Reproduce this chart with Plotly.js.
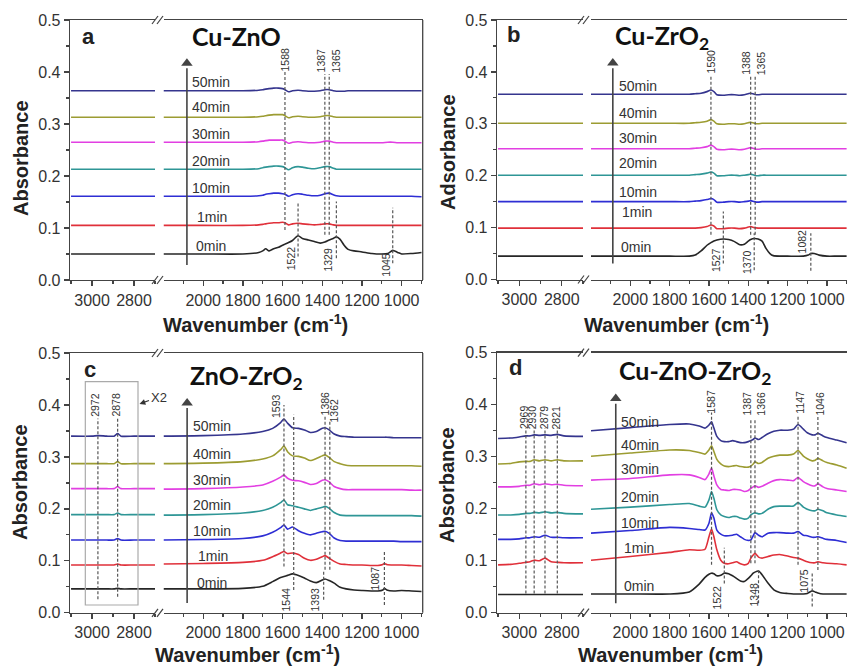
<!DOCTYPE html>
<html><head><meta charset="utf-8">
<script src="https://cdn.plot.ly/plotly-3.0.1.min.js"></script>
<style>html,body{margin:0;padding:0;background:#fff;} #chart{width:847px;height:666px;}</style>
</head><body><div id="chart"></div>
<script>
// ---------------- DATA ----------------
const times = ['0min','1min','10min','20min','30min','40min','50min'];
const panelNames = ['a','b','c','d'];
const panelTitles = ['Cu-ZnO','Cu-ZrO<sub>2</sub>','ZnO-ZrO<sub>2</sub>','Cu-ZnO-ZrO<sub>2</sub>'];
const yTitles = ['Absorbance','Adsorbance','Absorbance','Absorbance'];
const xTitle = 'Wavenumber (cm<sup>-1</sup>)';
const yTickVals = [0, 0.1, 0.2, 0.3, 0.4, 0.5];
const yTickText = ['0.0','0.1','0.2','0.3','0.4','0.5'];
const xTickLeft = [3000, 2800];
const xMinorLeft = [3100, 2900, 2700];
const xTickRight = [2000, 1800, 1600, 1400, 1200, 1000];
const xMinorRight = [2100, 1900, 1700, 1500, 1300, 1100, 900];

// Panel a (Cu-ZnO)
const aWnL = [3100, 2900, 2700];
const aL = [
 [0.050,0.050,0.050],[0.105,0.105,0.105],[0.161,0.161,0.161],[0.213,0.213,0.213],
 [0.265,0.265,0.265],[0.313,0.313,0.313],[0.364,0.364,0.364]];
const aWnR = [2200,2000,1800,1720,1700, 1685,1668,1645,1620,1600, 1588,1570,1550,1522,1500,
 1470,1440,1410,1387,1365, 1345,1329,1310,1290,1270, 1240,1200,1150,1100,1070, 1045,1020,1000,950,900];
const aR = [
 [0.050,0.050,0.050,0.053,0.056, 0.060,0.056,0.060,0.063,0.067, 0.069,0.072,0.076,0.085,0.080, 0.077,0.074,0.071,0.073,0.077, 0.080,0.083,0.078,0.067,0.059, 0.056,0.054,0.051,0.050,0.051, 0.057,0.053,0.050,0.051,0.053],
 [0.105,0.105,0.105,0.106,0.107, 0.108,0.109,0.110,0.110,0.111, 0.110,0.106,0.108,0.109,0.108, 0.107,0.106,0.107,0.108,0.108, 0.106,0.105,0.105,0.105,0.105, 0.105,0.105,0.105,0.105,0.105, 0.105,0.105,0.105,0.105,0.105],
 [0.161,0.161,0.161,0.162,0.163, 0.165,0.166,0.167,0.167,0.166, 0.165,0.161,0.164,0.166,0.165, 0.163,0.162,0.163,0.166,0.167, 0.164,0.162,0.161,0.161,0.161, 0.161,0.161,0.161,0.161,0.161, 0.161,0.161,0.161,0.161,0.160],
 [0.213,0.213,0.213,0.214,0.216, 0.217,0.218,0.219,0.219,0.218, 0.216,0.212,0.216,0.218,0.217, 0.215,0.214,0.216,0.218,0.218, 0.215,0.213,0.213,0.213,0.213, 0.213,0.213,0.213,0.213,0.213, 0.213,0.213,0.213,0.213,0.213],
 [0.265,0.265,0.265,0.266,0.267, 0.268,0.269,0.269,0.269,0.269, 0.267,0.263,0.265,0.266,0.265, 0.264,0.264,0.265,0.267,0.267, 0.265,0.264,0.264,0.264,0.264, 0.264,0.264,0.264,0.264,0.265, 0.265,0.264,0.264,0.264,0.264],
 [0.313,0.313,0.313,0.314,0.315, 0.316,0.317,0.318,0.318,0.318, 0.316,0.312,0.314,0.315,0.314, 0.313,0.313,0.314,0.316,0.316, 0.314,0.313,0.313,0.313,0.313, 0.313,0.313,0.313,0.313,0.313, 0.313,0.313,0.313,0.313,0.313],
 [0.364,0.364,0.364,0.365,0.366, 0.367,0.368,0.369,0.369,0.368, 0.366,0.362,0.364,0.365,0.364, 0.363,0.363,0.364,0.366,0.366, 0.364,0.363,0.363,0.363,0.364, 0.364,0.364,0.364,0.364,0.364, 0.364,0.364,0.364,0.364,0.364]];
const aPk = [1588, 1387, 1365, 1522, 1329, 1045];
const aPkLo = [0.096, 0.087, 0.087, 0.045, 0.042, 0.032];
const aPkHi = [0.401, 0.396, 0.396, 0.151, 0.151, 0.139];
const aPkLab = [0.424, 0.422, 0.422, 0.042, 0.040, 0.029];
const aTimeY = [0.065, 0.122, 0.177, 0.229, 0.281, 0.333, 0.381];
const aTimeX = [2047, 2043, 2065, 2065, 2065, 2065, 2065];
const aArrow = [2082, 0.029, 0.417];

// Panel b (Cu-ZrO2)
const bWnL = [3100, 2900, 2700];
const bL = [
 [0.045,0.045,0.045],[0.099,0.099,0.099],[0.150,0.150,0.150],[0.201,0.201,0.201],
 [0.252,0.252,0.252],[0.301,0.301,0.301],[0.357,0.357,0.357]];
const bWnR = [2200,2000,1800,1700,1670, 1640,1610,1590,1575,1560, 1527,1500,1470,1443,1420,
 1400,1388,1370,1350,1330, 1310,1290,1273,1240,1200, 1120,1095,1082,1065,1040, 1000,950,900];
const bR = [
 [0.045,0.045,0.045,0.045,0.047, 0.055,0.066,0.071,0.074,0.076, 0.078,0.077,0.073,0.067,0.068, 0.074,0.077,0.079,0.078,0.074, 0.060,0.050,0.046,0.045,0.045, 0.045,0.047,0.050,0.050,0.047, 0.045,0.045,0.045],
 [0.099,0.099,0.099,0.099,0.099, 0.100,0.102,0.105,0.103,0.098, 0.098,0.099,0.099,0.098,0.099, 0.101,0.102,0.100,0.099,0.099, 0.099,0.099,0.099,0.099,0.099, 0.099,0.099,0.099,0.099,0.099, 0.099,0.099,0.099],
 [0.150,0.150,0.150,0.150,0.151, 0.152,0.154,0.156,0.154,0.149, 0.149,0.150,0.150,0.149,0.150, 0.151,0.152,0.150,0.149,0.150, 0.150,0.150,0.150,0.150,0.150, 0.150,0.150,0.150,0.150,0.150, 0.150,0.150,0.150],
 [0.201,0.201,0.201,0.201,0.202, 0.203,0.205,0.207,0.205,0.200, 0.200,0.201,0.201,0.200,0.201, 0.202,0.203,0.201,0.200,0.201, 0.201,0.201,0.201,0.201,0.201, 0.201,0.201,0.201,0.201,0.201, 0.201,0.201,0.201],
 [0.252,0.252,0.252,0.252,0.253, 0.254,0.256,0.259,0.256,0.251, 0.250,0.251,0.251,0.250,0.251, 0.253,0.254,0.252,0.251,0.252, 0.252,0.252,0.252,0.252,0.252, 0.252,0.252,0.252,0.252,0.252, 0.252,0.252,0.252],
 [0.301,0.301,0.301,0.301,0.302, 0.303,0.305,0.308,0.305,0.300, 0.299,0.300,0.300,0.299,0.300, 0.302,0.303,0.301,0.300,0.301, 0.301,0.301,0.301,0.301,0.301, 0.301,0.301,0.301,0.301,0.301, 0.301,0.301,0.301],
 [0.357,0.357,0.357,0.357,0.358, 0.359,0.362,0.365,0.362,0.356, 0.355,0.356,0.356,0.355,0.356, 0.358,0.359,0.357,0.356,0.357, 0.357,0.357,0.357,0.357,0.357, 0.357,0.357,0.357,0.357,0.357, 0.357,0.357,0.357]];
const bPk = [1590, 1388, 1365, 1527, 1370, 1082];
const bPkLo = [0.086, 0.086, 0.086, 0.031, 0.018, 0.017];
const bPkHi = [0.394, 0.394, 0.394, 0.131, 0.089, 0.089];
const bPkLab = [0.420, 0.417, 0.417, 0.038, 0.034, 0.073];
const bTimeY = [0.063, 0.131, 0.169, 0.224, 0.273, 0.320, 0.373];
const bTimeX = [2057, 2052, 2069, 2069, 2069, 2069, 2069];
const bArrow = [2089, 0.031, 0.417];

// Panel c (ZnO-ZrO2)
const cWnL = [3100, 3000, 2972, 2930, 2895, 2878, 2862, 2800, 2700];
const cL = [
 [0.046,0.046,0.046,0.046,0.046,0.047,0.046,0.046,0.046],
 [0.092,0.092,0.092,0.092,0.092,0.094,0.092,0.092,0.092],
 [0.140,0.140,0.140,0.140,0.140,0.143,0.140,0.140,0.140],
 [0.189,0.189,0.189,0.189,0.189,0.192,0.189,0.189,0.189],
 [0.239,0.239,0.239,0.239,0.239,0.243,0.239,0.239,0.239],
 [0.287,0.287,0.287,0.287,0.287,0.291,0.287,0.287,0.287],
 [0.340,0.340,0.341,0.340,0.340,0.345,0.340,0.340,0.340]];
const cWnR = [2200,2000,1800,1700,1650, 1610,1593,1575,1550,1520, 1490,1460,1430,1400,1386,
 1365,1340,1310,1280,1240, 1200,1120,1095,1087,1075, 1040,1000,950,900];
const cR = [
 [0.046,0.046,0.047,0.051,0.060, 0.068,0.070,0.072,0.075,0.072, 0.067,0.061,0.058,0.063,0.065, 0.062,0.057,0.049,0.046,0.044, 0.043,0.042,0.044,0.047,0.044, 0.042,0.043,0.042,0.041],
 [0.094,0.095,0.097,0.101,0.108, 0.115,0.118,0.114,0.115,0.112, 0.105,0.101,0.103,0.108,0.110, 0.105,0.099,0.094,0.093,0.092, 0.092,0.091,0.093,0.095,0.093, 0.092,0.092,0.091,0.090],
 [0.140,0.141,0.143,0.148,0.155, 0.164,0.169,0.161,0.165,0.158, 0.153,0.150,0.153,0.156,0.157, 0.153,0.144,0.139,0.138,0.138, 0.138,0.138,0.138,0.138,0.138, 0.138,0.137,0.137,0.137],
 [0.188,0.189,0.192,0.197,0.203, 0.212,0.217,0.208,0.206,0.203, 0.200,0.197,0.200,0.203,0.205, 0.201,0.193,0.188,0.187,0.187, 0.187,0.187,0.187,0.187,0.187, 0.187,0.187,0.187,0.186],
 [0.238,0.239,0.242,0.246,0.253, 0.261,0.265,0.259,0.255,0.254, 0.251,0.247,0.249,0.255,0.256, 0.252,0.243,0.239,0.237,0.237, 0.237,0.237,0.237,0.237,0.237, 0.237,0.237,0.236,0.236],
 [0.287,0.288,0.291,0.296,0.302, 0.314,0.321,0.310,0.302,0.301, 0.298,0.293,0.297,0.302,0.304, 0.299,0.291,0.287,0.284,0.283, 0.283,0.283,0.283,0.283,0.283, 0.283,0.283,0.283,0.282],
 [0.340,0.341,0.344,0.349,0.355, 0.366,0.373,0.365,0.356,0.355, 0.352,0.347,0.349,0.355,0.356, 0.352,0.344,0.340,0.339,0.338, 0.338,0.338,0.338,0.338,0.338, 0.337,0.337,0.337,0.337]];
const cPk = [1593, 1544, 1386, 1362, 1393, 1087];
const cPkLo = [0.089, 0.044, 0.083, 0.083, 0.025, 0.015];
const cPkHi = [0.400, 0.381, 0.378, 0.371, 0.083, 0.120];
const cPkLab = [0.398, 0.025, 0.403, 0.389, 0.025, 0.067];
const cPkL = [2972, 2878];
const cPkLLo = [0.026, 0.031];
const cPkLHi = [0.374, 0.374];
const cPkLLab = [0.400, 0.400];
const cBox = [3032, 2781, 0.015, 0.445];
const cTimeY = [0.058, 0.110, 0.158, 0.208, 0.256, 0.305, 0.360];
const cTimeX = [2039, 2036, 2059, 2059, 2059, 2059, 2059];
const cArrow = [2081, 0.019, 0.404];

// Panel d (Cu-ZnO-ZrO2)
const dWnL = [3100,3040,3000,2969,2950,2930,2905,2879,2850,2821,2790,2700];
const dL = [
 [0.035,0.035,0.035,0.035,0.035,0.035,0.035,0.035,0.035,0.035,0.035,0.035],
 [0.092,0.093,0.095,0.097,0.098,0.101,0.100,0.105,0.098,0.097,0.096,0.096],
 [0.141,0.141,0.142,0.144,0.144,0.146,0.145,0.149,0.145,0.145,0.144,0.144],
 [0.188,0.188,0.189,0.191,0.191,0.193,0.192,0.194,0.192,0.193,0.191,0.190],
 [0.242,0.242,0.243,0.245,0.245,0.248,0.246,0.248,0.246,0.247,0.245,0.244],
 [0.286,0.287,0.290,0.291,0.291,0.294,0.292,0.294,0.292,0.294,0.292,0.292],
 [0.335,0.336,0.338,0.340,0.340,0.342,0.341,0.342,0.341,0.343,0.340,0.339]];
const dWnR = [2200,2000,1800,1700,1650, 1620,1600,1587,1575,1560, 1540,1522,1500,1480,1460,
 1440,1420,1400,1387,1375, 1366,1348,1330,1300,1270, 1240,1200,1170,1147,1120, 1100,1075,1060,1046,1020, 1000,950,900];
const dR = [
 [0.036,0.036,0.036,0.040,0.055, 0.068,0.074,0.076,0.075,0.071, 0.072,0.076,0.075,0.071,0.066, 0.061,0.060,0.066,0.071,0.076, 0.078,0.080,0.073,0.057,0.044, 0.039,0.037,0.036,0.036,0.036, 0.037,0.042,0.040,0.038,0.036, 0.036,0.036,0.036],
 [0.101,0.108,0.116,0.121,0.120, 0.122,0.146,0.161,0.146,0.121, 0.101,0.095,0.094,0.096,0.098, 0.094,0.092,0.095,0.105,0.111, 0.114,0.107,0.105,0.108,0.111, 0.112,0.109,0.106,0.105,0.101, 0.098,0.096,0.096,0.098,0.096, 0.095,0.094,0.092],
 [0.153,0.158,0.164,0.162,0.160, 0.159,0.172,0.192,0.182,0.159, 0.151,0.148,0.148,0.149,0.151, 0.146,0.141,0.139,0.140,0.148, 0.154,0.149,0.146,0.153,0.154, 0.154,0.153,0.153,0.156,0.149, 0.148,0.145,0.145,0.146,0.143, 0.141,0.139,0.135],
 [0.199,0.203,0.208,0.210,0.205, 0.203,0.217,0.233,0.220,0.198, 0.188,0.185,0.183,0.185,0.185, 0.182,0.180,0.182,0.188,0.191, 0.192,0.190,0.191,0.199,0.204, 0.205,0.205,0.205,0.212,0.203, 0.199,0.196,0.196,0.199,0.196, 0.192,0.188,0.185],
 [0.255,0.258,0.265,0.265,0.260, 0.256,0.267,0.278,0.263,0.246, 0.237,0.236,0.235,0.237,0.237, 0.236,0.233,0.235,0.239,0.242, 0.244,0.241,0.243,0.249,0.254, 0.256,0.255,0.254,0.260,0.252, 0.248,0.244,0.244,0.248,0.242, 0.239,0.236,0.233],
 [0.301,0.307,0.313,0.312,0.308, 0.305,0.313,0.321,0.310,0.295, 0.286,0.282,0.281,0.282,0.283, 0.281,0.280,0.280,0.282,0.286, 0.290,0.287,0.289,0.297,0.301, 0.303,0.303,0.305,0.312,0.301, 0.296,0.292,0.293,0.297,0.292, 0.289,0.284,0.278],
 [0.350,0.356,0.362,0.363,0.359, 0.355,0.361,0.367,0.355,0.339, 0.331,0.329,0.329,0.331,0.329, 0.327,0.327,0.329,0.331,0.333, 0.336,0.333,0.337,0.344,0.349, 0.351,0.351,0.353,0.362,0.353, 0.346,0.342,0.342,0.345,0.340, 0.337,0.332,0.327]];
const dPk = [1587, 1387, 1366, 1147, 1046, 1522, 1348, 1075];
const dPkLo = [0.092, 0.095, 0.095, 0.092, 0.082, 0.056, 0.018, 0.012];
const dPkHi = [0.385, 0.374, 0.374, 0.380, 0.380, 0.125, 0.082, 0.079];
const dPkLab = [0.405, 0.402, 0.402, 0.404, 0.402, 0.030, 0.034, 0.062];
const dPkL = [2969, 2930, 2879, 2821];
const dPkLLo = [0.037, 0.037, 0.037, 0.037];
const dPkLHi = [0.355, 0.355, 0.355, 0.355];
const dPkLLab = [0.376, 0.376, 0.376, 0.376];
const dTimeY = [0.051, 0.124, 0.173, 0.223, 0.276, 0.3225, 0.367];
const dTimeX = [2044, 2040, 2060, 2060, 2060, 2060, 2060];
const dArrow = [2074, 0.018, 0.412];

// ---------------- STYLE / LAYOUT ----------------
const W = 847, H = 666;
const px = v => v / W, py = v => 1 - v / H;
const colors = ['#262626','#e0303a','#2e2ed4','#2e9696','#e23fe2','#9c9c32','#35358e'];
const axisColor = '#444';
const tickFont = {family:'Liberation Sans, Arial, sans-serif', size:16, color:'#333'};
const pkFont = {family:'Liberation Sans Narrow, Liberation Sans, Arial, sans-serif', size:10.5, color:'#333'};
const timeFont = {family:'Liberation Sans, Arial, sans-serif', size:14, color:'#333'};

const geo = [
 {L:[70,155], R:[163.5,422.7], Y:[280,20], rL:[3105,2700], rR:[2200,894], frameR:true, brk:[152,163]},
 {L:[497,583], R:[591,847], Y:[279.5,20], rL:[3105,2700], rR:[2200,898], frameR:false, brk:[578,589]},
 {L:[70,155], R:[163.5,422.7], Y:[612.8,353], rL:[3105,2700], rR:[2200,894], frameR:true, brk:[152,163]},
 {L:[497,583], R:[591,847], Y:[612.7,352.7], rL:[3105,2700], rR:[2200,898], frameR:false, brk:[578,589]}
];
const pk = [
 {wn:aPk, lo:aPkLo, hi:aPkHi, lab:aPkLab, sh:[0,-4,6,-7,-8,-7]},
 {wn:bPk, lo:bPkLo, hi:bPkHi, lab:bPkLab, sh:[0,-5,6,-8,-7,-9]},
 {wn:cPk, lo:cPkLo, hi:cPkHi, lab:cPkLab, sh:[-8,-8,0,4,-9,-9]},
 {wn:dPk, lo:dPkLo, hi:dPkHi, lab:dPkLab, sh:[0,-4,6,2,2,-7,-5,-8]}
];
const pkL = [null, null,
 {wn:cPkL, lo:cPkLLo, hi:cPkLHi, lab:cPkLLab, sh:[-3,-2]},
 {wn:dPkL, lo:dPkLLo, hi:dPkLHi, lab:dPkLLab, sh:[-2,-2,-1,-1]}];
const series = [
 {wL:aWnL, L:aL, wR:aWnR, R:aR, tx:aTimeX, ty:aTimeY, ar:aArrow},
 {wL:bWnL, L:bL, wR:bWnR, R:bR, tx:bTimeX, ty:bTimeY, ar:bArrow},
 {wL:cWnL, L:cL, wR:cWnR, R:cR, tx:cTimeX, ty:cTimeY, ar:cArrow},
 {wL:dWnL, L:dL, wR:dWnR, R:dR, tx:dTimeX, ty:dTimeY, ar:dArrow}
];
const letterPos = [[80,36],[505,35],[82,369],[507,367]];
const titlePos = [[190,36],[613,37],[188,377],[617,372]];
const yTitlePos = [[21,158],[448,152],[20,482],[447,485]];
const xTitlePos = [[255,323],[676,323],[247,653],[670,653]];

const traces = [], shapes = [], annotations = [];
const layout = {
  width: W, height: H, margin:{l:0,r:0,t:0,b:0},
  paper_bgcolor:'#fff', plot_bgcolor:'rgba(0,0,0,0)', showlegend:false
};

for (let p = 0; p < 4; p++) {
  const g = geo[p], s = series[p];
  const xl = 2*p + 1, xr = 2*p + 2, yi = p + 1;
  const xlName = xl === 1 ? 'x' : 'x' + xl, xrName = 'x' + xr;
  const yName = yi === 1 ? 'y' : 'y' + yi;
  const xlKey = xl === 1 ? 'xaxis' : 'xaxis' + xl, xrKey = 'xaxis' + xr;
  const yKey = yi === 1 ? 'yaxis' : 'yaxis' + yi;
  const baseX = {
    showline:true, mirror:true, linecolor:axisColor, linewidth:1.3,
    ticks:'outside', ticklen:5, tickwidth:1.3, tickcolor:axisColor,
    tickfont:tickFont, showgrid:false, zeroline:false, fixedrange:true, anchor:yName,
    tickmode:'array'
  };
  layout[xlKey] = Object.assign({}, baseX, {
    domain:[px(g.L[0]), px(g.L[1])], range:g.rL,
    tickvals:xTickLeft, ticktext:xTickLeft.map(String),
    minor:{tickmode:'array', tickvals:xMinorLeft, ticks:'outside', ticklen:3, tickcolor:axisColor, tickwidth:1.2}
  });
  layout[xrKey] = Object.assign({}, baseX, {
    domain:[px(g.R[0]), Math.min(1, px(g.R[1]))], range:g.rR,
    tickvals:xTickRight, ticktext:xTickRight.map(String),
    minor:{tickmode:'array', tickvals:xMinorRight, ticks:'outside', ticklen:3, tickcolor:axisColor, tickwidth:1.2}
  });
  layout[yKey] = {
    domain:[py(g.Y[0]), py(g.Y[1])], range:[0, 0.5], anchor:xlName,
    showline:true, linecolor:axisColor, linewidth:1.3,
    ticks:'outside', ticklen:5, tickwidth:1.3, tickcolor:axisColor,
    tickmode:'array', tickvals:yTickVals, ticktext:yTickText, tickfont:tickFont,
    minor:{dtick:0.05, tick0:0, ticks:'outside', ticklen:3, tickcolor:axisColor, tickwidth:1.2},
    showgrid:false, zeroline:false, fixedrange:true
  };
  for (let k = 0; k < times.length; k++) {
    const ln = {color:colors[k], width:1.6, shape:'spline', smoothing:0.6};
    traces.push({x:s.wL, y:s.L[k], xaxis:xlName, yaxis:yName, type:'scatter', mode:'lines', line:ln, hoverinfo:'skip', name:times[k]});
    traces.push({x:s.wR, y:s.R[k], xaxis:xrName, yaxis:yName, type:'scatter', mode:'lines', line:ln, hoverinfo:'skip', name:times[k]});
    annotations.push({xref:xrName, yref:yName, x:s.tx[k], y:s.ty[k], text:times[k], showarrow:false,
      xanchor:'left', yanchor:'middle', font:timeFont});
  }
  // time arrow: shaft + triangular head
  shapes.push({type:'line', xref:xrName, yref:yName, x0:s.ar[0], x1:s.ar[0], y0:s.ar[1], y1:s.ar[2] - 0.01,
    line:{color:'#444', width:1.6}});
  traces.push({x:[s.ar[0]], y:[s.ar[2]], xaxis:xrName, yaxis:yName, type:'scatter', mode:'markers',
    marker:{symbol:'triangle-up', size:10, color:'#444'}, hoverinfo:'skip'});
  const P = pk[p];
  for (let i = 0; i < P.wn.length; i++) {
    shapes.push({type:'line', xref:xrName, yref:yName, x0:P.wn[i], x1:P.wn[i], y0:P.lo[i], y1:P.hi[i],
      line:{color:'#555', width:1.2, dash:'3px,2px'}});
    annotations.push({xref:xrName, yref:yName, x:P.wn[i], y:P.lab[i], text:String(P.wn[i]), textangle:-90,
      showarrow:false, xshift:P.sh[i], font:pkFont, xanchor:'center', yanchor:'middle'});
  }
  const Q = pkL[p];
  if (Q) {
    for (let i = 0; i < Q.wn.length; i++) {
      shapes.push({type:'line', xref:xlName, yref:yName, x0:Q.wn[i], x1:Q.wn[i], y0:Q.lo[i], y1:Q.hi[i],
        line:{color:'#555', width:1.2, dash:'3px,2px'}});
      annotations.push({xref:xlName, yref:yName, x:Q.wn[i], y:Q.lab[i], text:String(Q.wn[i]), textangle:-90,
        showarrow:false, xshift:Q.sh[i], font:pkFont, xanchor:'center', yanchor:'middle'});
    }
  }
  if (g.frameR) {
    shapes.push({type:'line', xref:'paper', yref:'paper', x0:px(g.R[1]), x1:px(g.R[1]), y0:py(g.Y[0]), y1:py(g.Y[1]),
      line:{color:axisColor, width:1.3}});
  }
  for (const yy of [g.Y[0], g.Y[1]]) {
    for (const off of [0, 5]) {
      const x0 = g.brk[0] + off;
      shapes.push({type:'line', xref:'paper', yref:'paper', x0:px(x0), x1:px(x0 + 6), y0:py(yy + 4), y1:py(yy - 4),
        line:{color:axisColor, width:1.2}});
    }
  }
  annotations.push({xref:'paper', yref:'paper', x:px(letterPos[p][0]), y:py(letterPos[p][1]), text:'<b>'+panelNames[p]+'</b>',
    showarrow:false, xanchor:'left', yanchor:'middle', font:{family:'Liberation Sans, Arial, sans-serif', size:22, color:'#222'}});
  annotations.push({xref:'paper', yref:'paper', x:px(titlePos[p][0]), y:py(titlePos[p][1]), text:'<b>'+panelTitles[p]+'</b>',
    showarrow:false, xanchor:'left', yanchor:'middle', font:{family:'Lato, Open Sans, sans-serif', size:25, color:'#111'}});
  annotations.push({xref:'paper', yref:'paper', x:px(yTitlePos[p][0]), y:py(yTitlePos[p][1]), text:'<b>'+yTitles[p]+'</b>',
    textangle:-90, showarrow:false, xanchor:'center', yanchor:'middle', font:{family:'Liberation Sans, Arial, sans-serif', size:20, color:'#222'}});
  annotations.push({xref:'paper', yref:'paper', x:px(xTitlePos[p][0]), y:py(xTitlePos[p][1]), text:'<b>'+xTitle+'</b>',
    showarrow:false, xanchor:'center', yanchor:'middle', font:{family:'Liberation Sans, Arial, sans-serif', size:20, color:'#222'}});
}
shapes.push({type:'rect', xref:'x5', yref:'y3', x0:cBox[0], x1:cBox[1], y0:cBox[2], y1:cBox[3],
  line:{color:'#aaa', width:1.2}, fillcolor:'rgba(0,0,0,0)'});
annotations.push({xref:'paper', yref:'paper', x:px(139.5), y:py(404), ax:19, ay:-7, text:'X2', showarrow:true,
  arrowhead:2, arrowsize:0.9, arrowwidth:1.3, arrowcolor:'#333', font:{family:'Liberation Sans, Arial, sans-serif', size:13, color:'#333'}});

layout.shapes = shapes;
layout.annotations = annotations;
Plotly.newPlot('chart', traces, layout, {displayModeBar:false, staticPlot:true});
</script>
</body></html>
